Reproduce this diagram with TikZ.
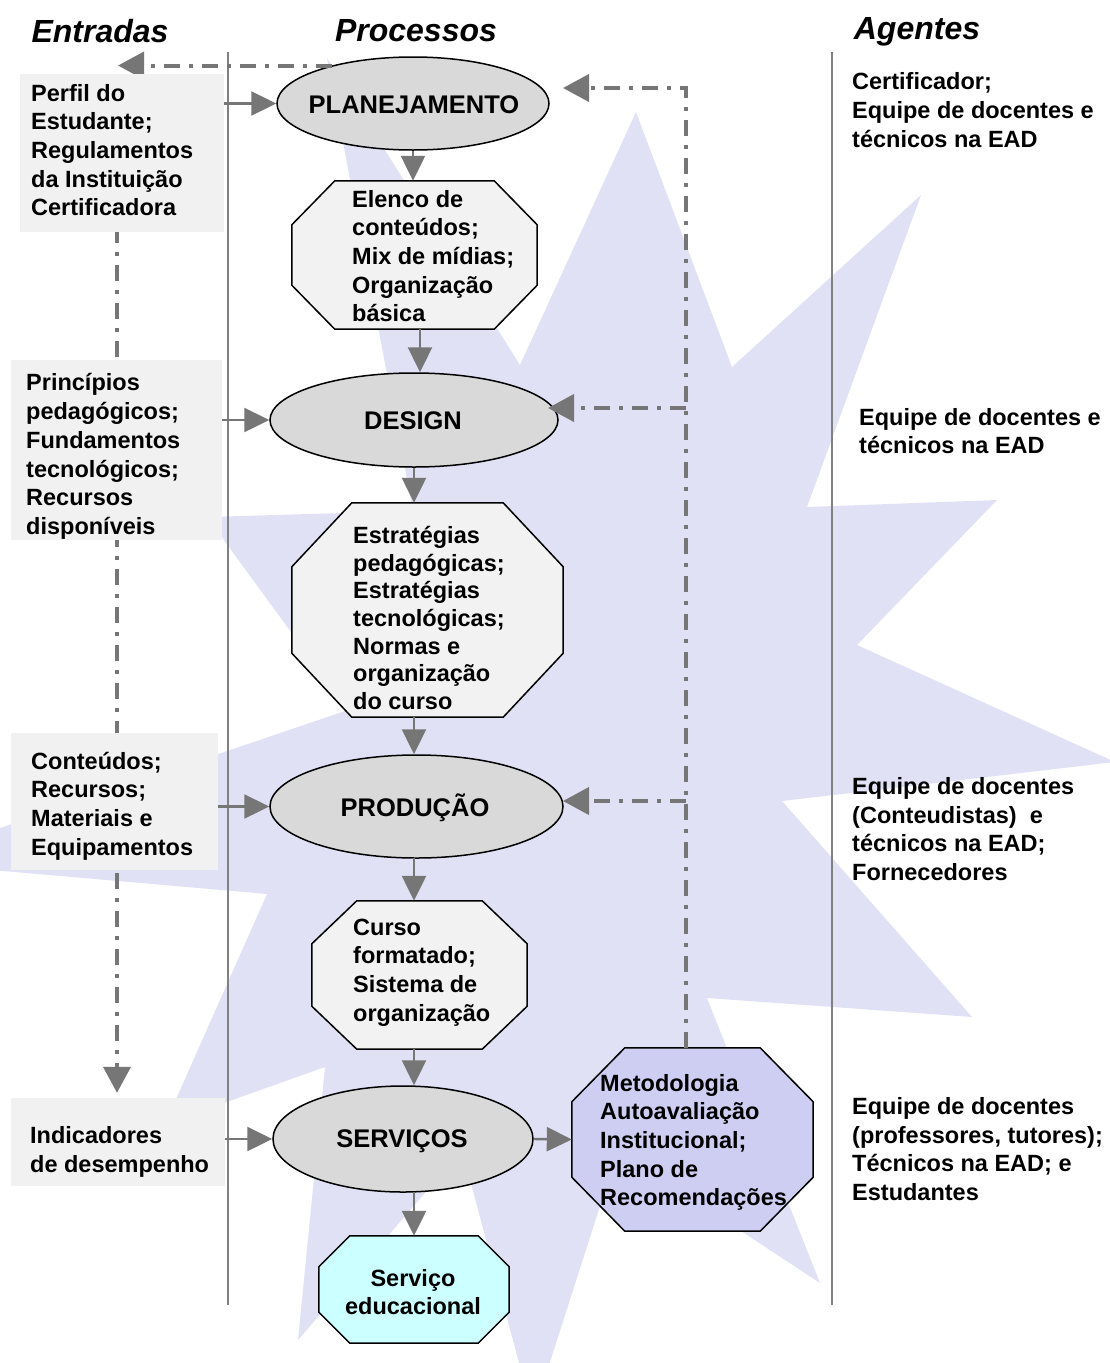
\documentclass[tikz,border=0pt]{standalone}
\usepackage{fontspec}
\setmainfont{Liberation Sans}
\usetikzlibrary{arrows.meta,calc,shapes.geometric}

\definecolor{starfill}{RGB}{225,225,246}
\definecolor{linegray}{RGB}{128,128,128}
\definecolor{arrowgray}{RGB}{118,118,118}
\definecolor{inbox}{RGB}{241,241,241}
\definecolor{procfill}{RGB}{217,217,217}
\definecolor{octfill}{RGB}{242,242,242}
\definecolor{evalfill}{RGB}{206,206,242}
\definecolor{outfill}{RGB}{204,255,255}

\newcommand\txtfont{\fontsize{23.5}{28.7}\selectfont\bfseries}
\newcommand\headfont{\fontsize{32}{38}\selectfont\bfseries\itshape}
\newcommand\procfont{\fontsize{25.5}{30}\selectfont\bfseries}

% octagon outline drawn around a rectangular slot node
\newcommand\octoutline[4]{%
  \draw[#1] ($(#2.north west)+(#3pt,0pt)$) -- ($(#2.north east)+(-#3pt,0pt)$)
    -- ($(#2.north east)+(0pt,-#4pt)$) -- ($(#2.south east)+(0pt,#4pt)$)
    -- ($(#2.south east)+(-#3pt,0pt)$) -- ($(#2.south west)+(#3pt,0pt)$)
    -- ($(#2.south west)+(0pt,#4pt)$) -- ($(#2.north west)+(0pt,-#4pt)$) -- cycle;}

\tikzset{
  column/.style={draw=linegray, line width=1.6pt},
  inputbox/.style={fill=inbox, draw=none, inner sep=0pt},
  process/.style={ellipse, draw=black, line width=1.5pt, fill=procfill, inner sep=0pt},
  proclabel/.style={font=\procfont, inner sep=0pt},
  octframe/.style={draw=black, line width=1.5pt, fill=octfill},
  evalframe/.style={octframe, fill=evalfill},
  outframe/.style={octframe, fill=outfill},
  slot/.style={inner sep=0pt, draw=none},
  label/.style={font=\txtfont, align=left, inner sep=0pt, anchor=west},
  heading/.style={font=\headfont, inner sep=0pt},
  flow/.style={draw=arrowgray, line width=2.4pt, -{Triangle[length=25pt,width=24pt]}},
  feedback/.style={draw=arrowgray, line width=4pt,
    dash pattern=on 16pt off 9pt on 4pt off 9pt, -{Triangle[length=26pt,width=27pt]}},
}

\begin{document}
\begin{tikzpicture}[x=1pt,y=-1pt]
\fill[white] (0,0) rectangle (1110,1363);
\useasboundingbox (0,0) rectangle (1110,1363);

% background star
\begin{scope}
  \clip (0,0) rectangle (1110,1363);
  \fill[starfill] (636,112) -- (732,367) -- (921,195) -- (807,507) -- (997,500)
    -- (857,645) -- (1115,762) -- (782,801) -- (972,1017) -- (707,998)
    -- (820,1283) -- (618,1150) -- (533,1415) -- (462,1150) -- (298,1340)
    -- (325,1067) -- (165,1124) -- (267,894) -- (-100,862) -- (348,710)
    -- (207,517) -- (413,511) -- (327,58) -- (520,365) -- cycle;
\end{scope}

% column separators
\coordinate (colAtop) at (228,52);
\coordinate (colAbot) at (228,1305);
\coordinate (colBtop) at (832,52);
\coordinate (colBbot) at (832,1305);
\draw[column] (colAtop) -- (colAbot);
\draw[column] (colBtop) -- (colBbot);

% headings
\node[heading] (hIn) at (100,31) {Entradas};
\node[heading] (hProc) at (416,31) {Processos};
\node[heading] (hAg) at (917,32) {Agentes};

% process ellipses
\node[process, minimum width=272pt, minimum height=93pt] (plan) at (413,103.5) {};
\node[process, minimum width=288pt, minimum height=94pt] (design) at (414,420) {};
\node[process, minimum width=293pt, minimum height=103pt] (prod) at (416.5,806.5) {};
\node[process, minimum width=260pt, minimum height=106pt] (serv) at (403,1139) {};

% input column: feedback line down to the indicators
\coordinate (entTip) at (118,66);
\coordinate (dropTop) at (117,75);
\node[inputbox, minimum width=214pt, minimum height=88pt] (indic) at (118,1142) {};
\draw[feedback] (plan.155) -- (plan.155 -| entTip);
\draw[feedback, shorten >=5pt] (dropTop) -- (dropTop |- indic.north);

% input boxes
\node[inputbox, minimum width=204pt, minimum height=158pt] (perfil) at (122,153) {};
\node[inputbox, minimum width=211pt, minimum height=180pt] (princ) at (116.5,450) {};
\node[inputbox, minimum width=207pt, minimum height=137pt] (cont) at (114.5,801.5) {};

% octagonal result boxes
\node[slot, minimum width=245pt, minimum height=148pt] (elenco) at (414.5,255) {};
\node[slot, minimum width=271pt, minimum height=214pt] (estrat) at (427.5,610) {};
\node[slot, minimum width=215pt, minimum height=148pt] (curso) at (419.5,975) {};
\node[slot, minimum width=241pt, minimum height=183pt] (meto) at (692.5,1139.5) {};
\node[slot, minimum width=190pt, minimum height=107pt] (servedu) at (414,1289.5) {};
\octoutline{octframe}{elenco}{43}{44}
\octoutline{octframe}{estrat}{60}{64}
\octoutline{octframe}{curso}{45}{43}
\octoutline{evalframe}{meto}{53}{54}
\octoutline{outframe}{servedu}{31}{31}

% evaluation feedback loop
\coordinate (fbBase) at ($(meto.north)+(-6.5pt,0pt)$);
\coordinate (fbTop) at (686,88);
\coordinate (fbPlan) at (563,88);
\coordinate (fbDesign) at (548,408);
\coordinate (fbProd) at (563,801);
\draw[feedback] (fbBase) -- (fbTop) -- (fbPlan);
\draw[feedback] (fbDesign -| fbTop) -- (fbDesign);
\draw[feedback] (fbProd -| fbTop) -- (fbProd);

% main flow
\draw[flow] (plan.south) -- (plan.south |- elenco.north);
\coordinate (elencoOut) at ($(elenco.south)+(5.5pt,0pt)$);
\draw[flow] (elencoOut) -- (elencoOut |- design.north);
\draw[flow] (design.south) -- (design.south |- estrat.north);
\coordinate (estratOut) at (414,717);
\draw[flow] (estratOut) -- (estratOut |- prod.north);
\coordinate (prodOut) at (414,858);
\draw[flow] (prodOut) -- (prodOut |- curso.north);
\coordinate (cursoOut) at (414,1049);
\draw[flow] (cursoOut) -- (cursoOut |- serv.north);
\coordinate (servOut) at (414,1192);
\draw[flow] (servOut) -- (servOut |- servedu.north);
\draw[flow] (serv.east) -- (meto.west);

% inputs into the processes
\draw[flow] (perfil.east |- plan.west) -- (plan.west);
\draw[flow] (princ.east |- design.west) -- (design.west);
\draw[flow] (cont.east |- prod.west) -- (prod.west);
\draw[flow] (indic.east |- serv.west) -- (serv.west);

% process labels
\node[proclabel] (planTxt) at (414,105) {PLANEJAMENTO};
\node[proclabel] (designTxt) at (413,421) {DESIGN};
\node[proclabel] (prodTxt) at (415,808) {PRODUÇÃO};
\node[proclabel] (servTxt) at (402,1141) {SERVIÇOS};

% input texts
\node[label] (perfilTxt) at (31,150) {Perfil do\\Estudante;\\Regulamentos\\da Instituição\\Certificadora};
\node[label] (princTxt) at (26,456.5) {Princípios\\pedagógicos;\\Fundamentos\\tecnológicos;\\Recursos\\disponíveis};
\node[label] (contTxt) at (31,806) {Conteúdos;\\Recursos;\\Materiais e\\Equipamentos};
\node[label] (indicTxt) at (30,1152) {Indicadores\\de desempenho};

% result texts
\node[label] (elencoTxt) at (352,256) {Elenco de\\conteúdos;\\Mix de mídias;\\Organização\\básica};
\node[label, font=\fontsize{23.5}{27.7}\selectfont\bfseries] (estratTxt) at (353,618) {Estratégias\\pedagógicas;\\Estratégias\\tecnológicas;\\Normas e\\organização\\do curso};
\node[label] (cursoTxt) at (353,972.5) {Curso\\formatado;\\Sistema de\\organização};
\node[label] (metoTxt) at (600,1142.5) {Metodologia\\Autoavaliação\\Institucional;\\Plano de\\Recomendações};
\node[label, anchor=center, align=center] (servTxt2) at (413,1292) {Serviço\\educacional};

% agents
\node[label] (agA) at (852,110) {Certificador;\\Equipe de docentes e\\técnicos na EAD};
\node[label] (agB) at (859,431) {Equipe de docentes e\\técnicos na EAD};
\node[label] (agC) at (852,829) {Equipe de docentes\\(Conteudistas)\ \ e\\técnicos na EAD;\\Fornecedores};
\node[label] (agD) at (852,1149) {Equipe de docentes\\(professores, tutores);\\Técnicos na EAD; e\\Estudantes};
\end{tikzpicture}
\end{document}
